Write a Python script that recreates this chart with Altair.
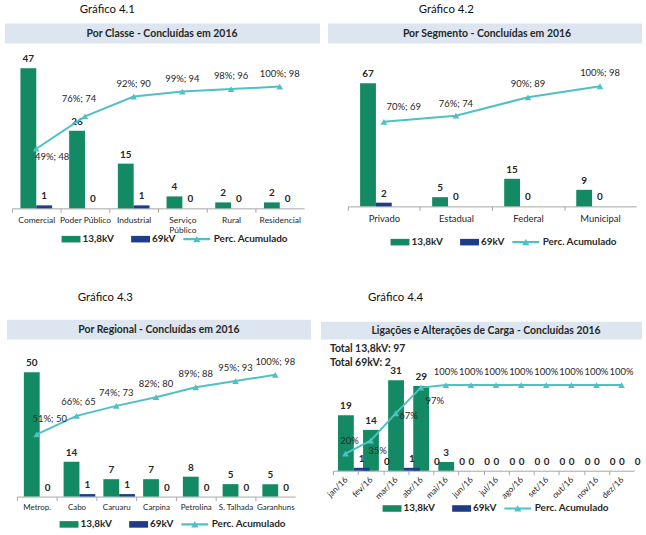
import altair as alt
import pandas as pd

FONT = "Lato"
GREEN = "#138a63"
BLUE = "#1f3c88"
TEAL = "#4fc1c4"
BANNER = "#dde6f0"
TXT = "#262626"

# ---------------- data ----------------
classes = ["Comercial", "Poder Público", "Industrial", "Serviço Público", "Rural", "Residencial"]
classe_138 = [47, 26, 15, 4, 2, 2]
classe_69 = [1, 0, 1, 0, 0, 0]
classe_acum = [48, 74, 90, 94, 96, 98]
classe_pct = ["49%", "76%", "92%", "99%", "98%", "100%"]

segments = ["Privado", "Estadual", "Federal", "Municipal"]
seg_138 = [67, 5, 15, 9]
seg_69 = [2, 0, 0, 0]
seg_acum = [69, 74, 89, 98]
seg_pct = ["70%", "76%", "90%", "100%"]

regions = ["Metrop.", "Cabo", "Caruaru", "Carpina", "Petrolina", "S. Talhada", "Garanhuns"]
reg_138 = [50, 14, 7, 7, 8, 5, 5]
reg_69 = [0, 1, 1, 0, 0, 0, 0]
reg_acum = [50, 65, 73, 80, 88, 93, 98]
reg_pct = ["51%", "66%", "74%", "82%", "89%", "95%", "100%"]

months = ["jan/16", "fev/16", "mar/16", "abr/16", "mai/16", "jun/16",
          "jul/16", "ago/16", "set/16", "out/16", "nov/16", "dez/16"]
mon_138 = [19, 14, 31, 29, 3, 0, 0, 0, 0, 0, 0, 0]
mon_69 = [1, 0, 1, 0, 0, 0, 0, 0, 0, 0, 0, 0]
mon_pct = [20, 35, 67, 97, 100, 100, 100, 100, 100, 100, 100, 100]

total_texts = ["Total 13,8kV: 97", "Total 69kV: 2"]

SERIES = ["13,8kV", "69kV", "Perc. Acumulado"]
BAR_PATH = "M-0.27,-0.22H1V0.22H-0.27Z"
LINE_PATH = "M-0.9,-0.07H0.9V0.07H-0.9Z M-0.24,0.2L0,-0.22L0.24,0.2Z"

ONE = pd.DataFrame({"k": [0]})


def panel(cats, v138, v69, line_vals, line_labels, width, height, x_range, pad,
          bar_max, line_max, graf, graf_xy, banner_box, banner_title, banner_xy,
          legend_xy, offsets, label_angle=0, label_expr=None, extra=(), anchor=None,
          label_size=8.5):
    n = len(cats)
    step = (x_range[1] - x_range[0]) / n
    bars_df = pd.DataFrame({
        "cat": list(cats) * 2,
        "series": ["13,8kV"] * n + ["69kV"] * n,
        "value": list(v138) + list(v69),
    })
    line_df = pd.DataFrame({"cat": list(cats), "i": list(range(n)),
                            "val": list(line_vals), "lab": list(line_labels)})

    x_scale = alt.Scale(domain=list(cats), range=list(x_range),
                        paddingInner=pad, paddingOuter=pad / 2)
    axis_kw = dict(title=None, domainColor="#a6a6a6", tickColor="#a6a6a6", tickSize=4,
                   tickOffset=-step / 2, labelOffset=step / 2,
                   labelFont=FONT, labelFontSize=label_size, labelColor=TXT, labelPadding=3,
                   grid=False, labelLineHeight=10, labelAngle=label_angle)
    if label_angle:
        axis_kw.update(labelAlign="right", labelBaseline="middle")
    else:
        axis_kw.update(labelAlign="center", labelBaseline="top")
    if label_expr:
        axis_kw["labelExpr"] = label_expr
    x_axis = alt.X("cat:N", scale=x_scale, axis=alt.Axis(**axis_kw))
    x_plain = alt.X("cat:N", scale=x_scale)
    y_bar = alt.Y("value:Q", scale=alt.Scale(domain=[0, bar_max]), axis=None)
    y_line = alt.Y("val:Q", scale=alt.Scale(domain=[0, line_max]), axis=None)
    x_off = alt.XOffset("series:N", scale=alt.Scale(domain=["13,8kV", "69kV"]))

    leg = alt.Legend(title=None, orient="none", legendX=legend_xy[0], legendY=legend_xy[1],
                     direction="horizontal", symbolSize=900, labelFont=FONT,
                     labelFontSize=10, labelFontWeight="bold", labelColor=TXT,
                     labelOffset=2, columnPadding=6, padding=0, symbolStrokeWidth=0)
    color_scale = alt.Scale(domain=SERIES, range=[GREEN, BLUE, TEAL])
    shape_scale = alt.Scale(domain=SERIES, range=[BAR_PATH, BAR_PATH, LINE_PATH])

    layers = []
    if anchor is not None:
        layers.append(alt.Chart(ONE).mark_rect(color="white").encode(
            x=alt.value(anchor[0]), x2=alt.value(anchor[0] + 1),
            y=alt.value(anchor[1]), y2=alt.value(anchor[1] + 1)))
    layers.append(alt.Chart(ONE).mark_rect(color=BANNER).encode(
        x=alt.value(banner_box[0]), x2=alt.value(banner_box[1]),
        y=alt.value(banner_box[2]), y2=alt.value(banner_box[3])))
    layers.append(alt.Chart(ONE).mark_text(
        text=banner_title, font=FONT, fontSize=10.5, fontWeight="bold", color=TXT,
        align="center", baseline="middle").encode(
        x=alt.value(banner_xy[0]), y=alt.value(banner_xy[1])))
    layers.append(alt.Chart(ONE).mark_text(
        text=graf, font=FONT, fontSize=11.5, color="#111111",
        align="center", baseline="middle").encode(
        x=alt.value(graf_xy[0]), y=alt.value(graf_xy[1])))
    for txt, (tx, ty) in extra:
        layers.append(alt.Chart(ONE).mark_text(
            text=txt, font=FONT, fontSize=10.5, fontWeight="bold", color=TXT,
            align="left", baseline="middle").encode(x=alt.value(tx), y=alt.value(ty)))

    bars = alt.Chart(bars_df).mark_bar().encode(
        x=x_axis, xOffset=x_off, y=y_bar,
        color=alt.Color("series:N", scale=color_scale, legend=leg))
    bar_text = alt.Chart(bars_df).mark_text(
        dy=-9, font=FONT, fontSize=10, fontWeight="bold", color=TXT, baseline="middle"
    ).encode(x=x_plain, xOffset=x_off, y=y_bar, text="value:Q")
    legend_dummy = alt.Chart(pd.DataFrame({"series": SERIES})).transform_filter(
        "false").mark_point(filled=True, opacity=1).encode(
        color=alt.Color("series:N", scale=color_scale, legend=leg),
        shape=alt.Shape("series:N", scale=shape_scale, legend=leg))
    line = alt.Chart(line_df).mark_line(
        color=TEAL, strokeWidth=2,
        point=alt.OverlayMarkDef(shape="triangle-up", filled=True, color=TEAL, size=45)
    ).encode(x=x_plain, y=y_line)
    layers += [bars, bar_text, line, legend_dummy]

    groups = {}
    for i in range(n):
        groups.setdefault(offsets.get(i, (0, -13)), []).append(i)
    for (dx, dy), idx in groups.items():
        layers.append(alt.Chart(line_df).transform_filter(
            alt.FieldOneOfPredicate(field="i", oneOf=idx)).mark_text(
            dx=dx, dy=dy, font=FONT, fontSize=9.5, color=TXT, baseline="middle"
        ).encode(x=x_plain, y=y_line, text="lab:N"))

    return alt.layer(*layers).resolve_scale(y="independent").properties(
        width=width, height=height)


p1 = panel(classes, classe_138, classe_69, classe_acum,
           [f"{p}; {a}" for p, a in zip(classe_pct, classe_acum)],
           width=294, height=150, x_range=[0, 294], pad=0.35, bar_max=50, line_max=120,
           graf="Gráfico 4.1", graf_xy=(96, -50), banner_box=(-7, 310, -36, -16),
           banner_title="Por Classe - Concluídas em 2016", banner_xy=(151, -25),
           legend_xy=(39, 166), offsets={0: (16, 8), 1: (-6, -18)},
           label_expr="datum.label == 'Serviço Público' ? ['Serviço', 'Público'] : datum.label",
           anchor=(-12, -58))

p2 = panel(segments, seg_138, seg_69, seg_acum,
           [f"{p}; {a}" for p, a in zip(seg_pct, seg_acum)],
           width=305, height=148, x_range=[15, 305], pad=0.34, bar_max=80, line_max=120,
           graf="Gráfico 4.2", graf_xy=(114, -50), banner_box=(-5, 311, -36, -16),
           banner_title="Por Segmento - Concluídas em 2016", banner_xy=(155, -25),
           legend_xy=(47, 169), offsets={0: (20, -15), 1: (0, -12)}, label_size=9.5)

p3 = panel(regions, reg_138, reg_69, reg_acum,
           [f"{p}; {a}" for p, a in zip(reg_pct, reg_acum)],
           width=290, height=150, x_range=[5, 285], pad=0.35, bar_max=60, line_max=120,
           graf="Gráfico 4.3", graf_xy=(94, -50), banner_box=(-5, 301, -28, -8),
           banner_title="Por Regional - Concluídas em 2016", banner_xy=(148, -18),
           legend_xy=(37, 163), offsets={0: (13, -16), 1: (2, -14)}, label_size=8)

p4 = panel(months, mon_138, mon_69, mon_pct, [f"{v}%" for v in mon_pct],
           width=303, height=124, x_range=[0, 303], pad=0.4, bar_max=42.2, line_max=143.8,
           graf="Gráfico 4.4", graf_xy=(63, -50), banner_box=(-12, 311, -26, -8),
           banner_title="Ligações e Alterações de Carga - Concluídas 2016", banner_xy=(154, -17),
           legend_xy=(39, 147),
           offsets={0: (4, -13), 1: (7, 10), 2: (13, 3), 3: (14, 13)},
           label_angle=315, label_size=8.5,
           extra=[(total_texts[0], (-3, 2)), (total_texts[1], (-3, 16))])

chart = alt.concat(
    p1, p2, p3, p4, columns=2, spacing={"row": 140, "column": 29},
    bounds="flush", align="each",
).resolve_scale(color="independent", shape="independent").properties(
    padding={"left": 0, "top": 0, "right": 0, "bottom": 0}
).configure_view(stroke=None)

chart.save("out.html", embed_options={"renderer": "svg", "actions": False})
